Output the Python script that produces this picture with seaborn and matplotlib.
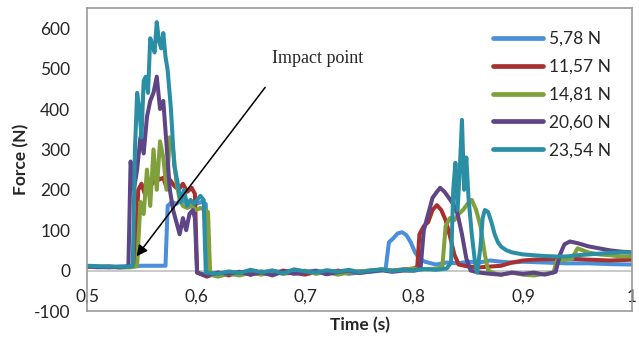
import seaborn as sns
import pandas as pd
import matplotlib.pyplot as plt

# Force vs time for 5 loads
labels = ['5,78 N', '11,57 N', '14,81 N', '20,60 N', '23,54 N']
colors = ['#4a8fdc', '#a8302e', '#7fa03a', '#5e4585', '#2a8fa4']

t_blue = [0.5, 0.51, 0.52, 0.53, 0.54, 0.55, 0.56, 0.572, 0.574, 0.578, 0.582, 0.586, 0.59, 0.595, 0.6, 0.605, 0.609,
          0.611, 0.62, 0.63, 0.64, 0.65, 0.66, 0.67, 0.68, 0.69, 0.7, 0.71, 0.72, 0.73, 0.74, 0.75, 0.76, 0.77,
          0.774, 0.777, 0.781, 0.785, 0.789, 0.793, 0.797, 0.801, 0.805, 0.81, 0.82, 0.83, 0.84, 0.85, 0.86, 0.87,
          0.88, 0.89, 0.9, 0.92, 0.94, 0.96, 0.98, 1.0]
f_blue = [10, 8, 10, 8, 9, 12, 12, 12, 160, 170, 165, 175, 168, 172, 165, 170, 165,
          -5, -10, -5, -8, -3, -6, 0, -5, 2, -3, 0, -5, -2, -8, -5, -3, 0,
          5, 70, 80, 92, 95, 88, 70, 45, 30, 22, 15, 20, 18, 22, 20, 25,
          22, 20, 22, 20, 18, 18, 16, 15]

t_red = [0.5, 0.51, 0.52, 0.53, 0.54, 0.544, 0.547, 0.55, 0.553, 0.556, 0.56, 0.563, 0.566, 0.57, 0.573, 0.576,
         0.58, 0.584, 0.588, 0.592, 0.596, 0.599, 0.601, 0.61, 0.62, 0.63, 0.64, 0.65, 0.66, 0.67, 0.68, 0.69,
         0.7, 0.71, 0.72, 0.73, 0.74, 0.75, 0.76, 0.77, 0.78, 0.79, 0.8, 0.803, 0.805, 0.809, 0.813, 0.817,
         0.821, 0.825, 0.829, 0.833, 0.837, 0.841, 0.85, 0.86, 0.87, 0.88, 0.89, 0.9, 0.91, 0.92, 0.94, 0.96,
         0.98, 1.0]
f_red = [10, 9, 10, 8, 10, 12, 200, 215, 190, 225, 215, 240, 225, 230, 205, 225,
         210, 200, 215, 195, 205, 190, -5, -15, -5, -12, -3, -10, -2, -8, 0, -5,
         -10, -3, -8, 0, -5, -2, 0, 2, 0, 3, 5, 10, 90, 110, 120, 150,
         162, 150, 125, 85, 40, 15, 10, 8, 10, 12, 20, 25, 27, 28, 30, 27,
         25, 27]

t_green = [0.5, 0.52, 0.54, 0.546, 0.549, 0.552, 0.555, 0.558, 0.561, 0.564, 0.567, 0.57, 0.573, 0.576, 0.579,
           0.582, 0.585, 0.588, 0.592, 0.596, 0.6, 0.604, 0.608, 0.611, 0.613, 0.62, 0.63, 0.64, 0.65, 0.66,
           0.67, 0.68, 0.69, 0.7, 0.71, 0.72, 0.73, 0.74, 0.75, 0.76, 0.77, 0.78, 0.79, 0.8, 0.81, 0.82, 0.826,
           0.829, 0.833, 0.837, 0.841, 0.845, 0.849, 0.853, 0.857, 0.861, 0.865, 0.868, 0.875, 0.88, 0.89, 0.9,
           0.91, 0.92, 0.928, 0.931, 0.94, 0.945, 0.95, 0.955, 0.96, 0.97, 0.98, 0.99, 1.0]
f_green = [10, 9, 8, 12, 170, 140, 250, 160, 300, 200, 320, 280, 200, 330, 300,
           220, 175, 160, 155, 160, 150, 155, 150, 145, -10, -15, -8, -12, -5, -10,
           -3, -8, -5, 0, -8, -3, -10, -5, -2, 0, 3, 0, 2, 5, 3, 5, 8,
           110, 130, 125, 140, 150, 165, 175, 150, 110, 40, 0, -8, -10, -5, -10,
           -12, -8, -5, 25, 27, 30, 55, 50, 45, 40, 38, 35, 35]

t_purple = [0.5, 0.52, 0.535, 0.538, 0.54, 0.543, 0.546, 0.549, 0.552, 0.555, 0.558, 0.561, 0.564, 0.567, 0.57,
            0.573, 0.576, 0.579, 0.582, 0.585, 0.588, 0.591, 0.594, 0.597, 0.599, 0.601, 0.61, 0.62, 0.63, 0.64,
            0.65, 0.66, 0.67, 0.68, 0.69, 0.7, 0.71, 0.72, 0.73, 0.74, 0.75, 0.76, 0.77, 0.78, 0.79, 0.8, 0.806,
            0.809, 0.813, 0.817, 0.821, 0.824, 0.828, 0.832, 0.836, 0.84, 0.844, 0.848, 0.852, 0.86, 0.87, 0.88,
            0.89, 0.9, 0.91, 0.92, 0.93, 0.934, 0.938, 0.943, 0.95, 0.96, 0.97, 0.98, 0.99, 1.0]
f_purple = [10, 8, 10, 12, 270, 200, 250, 330, 290, 380, 420, 440, 480, 400, 420,
            310, 200, 150, 120, 90, 130, 100, 140, 150, 130, -5, -12, -5, -8, -3,
            -10, -4, -12, -2, -8, -5, -1, -9, -4, 0, -6, -2, 1, -3, 0, 0, 5,
            100, 140, 180, 195, 205, 195, 180, 165, 140, 90, 30, 0, -5, -8, -10,
            -5, -8, -5, -10, -3, 40, 65, 72, 68, 60, 55, 50, 47, 45]

t_teal = [0.5, 0.52, 0.54, 0.542, 0.544, 0.546, 0.548, 0.55, 0.552, 0.554, 0.556, 0.558, 0.56, 0.562, 0.564,
          0.566, 0.568, 0.57, 0.572, 0.574, 0.577, 0.58, 0.583, 0.586, 0.589, 0.592, 0.595, 0.598, 0.601, 0.604,
          0.607, 0.609, 0.62, 0.63, 0.64, 0.65, 0.66, 0.67, 0.68, 0.69, 0.7, 0.71, 0.72, 0.73, 0.74, 0.75, 0.76,
          0.77, 0.78, 0.79, 0.8, 0.81, 0.82, 0.83, 0.834, 0.836, 0.838, 0.84, 0.842, 0.844, 0.846, 0.848, 0.85,
          0.853, 0.856, 0.858, 0.861, 0.863, 0.865, 0.868, 0.871, 0.874, 0.877, 0.88, 0.885, 0.89, 0.9, 0.91,
          0.92, 0.93, 0.94, 0.95, 0.96, 0.97, 0.98, 0.99, 1.0]
f_teal = [12, 10, 10, 12, 300, 440, 400, 330, 470, 480, 440, 575, 560, 540, 615,
          570, 550, 588, 530, 496, 400, 260, 220, 170, 200, 160, 175, 165, 175, 185,
          175, -5, -8, -2, -6, 2, -4, 0, -7, 3, -2, -5, 1, -3, 2, -4, 0,
          3, -1, 2, 0, 4, 2, 5, 20, 200, 267, 150, 250, 373, 200, 280, 180,
          90, 20, -5, 60, 130, 150, 145, 120, 90, 70, 59, 50, 45, 40, 38,
          36, 35, 35, 38, 40, 42, 44, 45, 45]

xtick_vals = [0.5, 0.6, 0.7, 0.8, 0.9, 1.0]
xtick_labels = ['0,5', '0,6', '0,7', '0,8', '0,9', '1']
ytick_vals = [-100, 0, 100, 200, 300, 400, 500, 600]

series = [(t_blue, f_blue), (t_red, f_red), (t_green, f_green), (t_purple, f_purple), (t_teal, f_teal)]
df = pd.concat([pd.DataFrame({'time': t, 'force': f, 'load': lab})
                for lab, (t, f) in zip(labels, series)], ignore_index=True)

sns.set_style('white')
plt.rcParams['font.family'] = ['Lato', 'DejaVu Sans']
plt.rcParams['axes.unicode_minus'] = False

fig = plt.figure(figsize=(6.39, 3.5), dpi=100)
ax = fig.add_axes([87/639, 39/350, 545/639, 303/350])

for lab, c in zip(labels, colors):
    sub = df[df['load'] == lab]
    sns.lineplot(x=sub['time'].values, y=sub['force'].values, color=c, lw=2.9, sort=False,
                 estimator=None, ax=ax, label=lab)

ax.set_xlim(0.5, 1.0)
ax.set_ylim(-100, 650)
ax.set_xticks(xtick_vals)
ax.set_xticklabels(xtick_labels)
ax.set_yticks(ytick_vals)
ax.axhline(0, color='#c0c0c0', lw=1.2, zorder=0)
for s in ax.spines.values():
    s.set_color('#9a9a9a')
    s.set_linewidth(1.2)
ax.tick_params(axis='both', length=0, labelsize=12.5)
ax.tick_params(axis='x', pad=-16)
ax.tick_params(axis='y', pad=12)

ax.set_xlabel('Time (s)', fontsize=12.5, fontweight='bold', labelpad=4)
ax.set_ylabel('Force (N)', fontsize=12.5, fontweight='bold', labelpad=3)

ax.legend(loc='upper left', bbox_to_anchor=(493/639, 1 - 31/350), bbox_transform=fig.transFigure,
          frameon=False, fontsize=12.5, handlelength=2.9, handletextpad=0.35, labelspacing=0.68,
          borderpad=0, borderaxespad=0)
for line in ax.get_legend().get_lines():
    line.set_linewidth(3.4)

ax.annotate('', xy=(0.544, 30), xytext=(0.665, 459),
            arrowprops=dict(arrowstyle='-|>', color='black', lw=1.1, mutation_scale=16))
ax.text(0.670, 526, 'Impact point', fontsize=13, family='Liberation Serif', va='center', ha='left')

fig.savefig('out.png', dpi=100)
